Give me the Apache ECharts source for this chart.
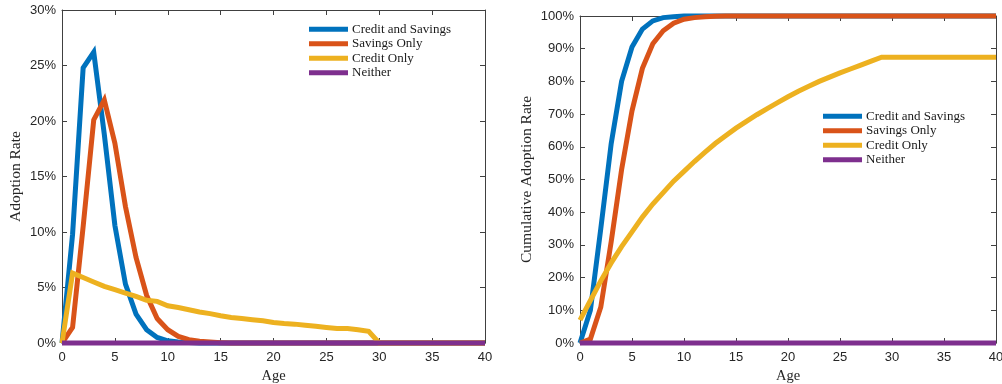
<!DOCTYPE html>
<html>
<head>
<meta charset="utf-8">
<script src="https://cdn.jsdelivr.net/npm/echarts@6/dist/echarts.min.js"></script>
<style>html,body{margin:0;padding:0;background:#fff;}#c{width:1002px;height:384px;}</style>
</head>
<body>
<div id="c"></div>
<script>
// ---- Data ----
const ages = [0,1,2,3,4,5,6,7,8,9,10,11,12,13,14,15,16,17,18,19,20,21,22,23,24,25,26,27,28,29,30,31,32,33,34,35,36,37,38,39,40];
const seriesNames = ['Credit and Savings','Savings Only','Credit Only','Neither'];

// Left panel: adoption rate (%) by age
const adoptCreditSavings = [0,9.8,24.8,26.2,18.8,10.6,5.3,2.6,1.2,0.5,0.2,0.1,0.05,0,0,0,0,0,0,0,0,0,0,0,0,0,0,0,0,0,0,0,0,0,0,0,0,0,0,0,0];
const adoptSavingsOnly   = [0,1.4,10.5,20.1,21.9,18,12.3,7.7,4.3,2.2,1.2,0.6,0.3,0.15,0.08,0.03,0,0,0,0,0,0,0,0,0,0,0,0,0,0,0,0,0,0,0,0,0,0,0,0,0];
const adoptCreditOnly    = [0,6.3,5.9,5.5,5.1,4.8,4.5,4.2,3.85,3.75,3.35,3.2,3.0,2.8,2.65,2.45,2.3,2.2,2.1,2.0,1.85,1.75,1.7,1.6,1.5,1.4,1.3,1.3,1.2,1.05,0,0,0,0,0,0,0,0,0,0,0];
const adoptNeither       = [0,0,0,0,0,0,0,0,0,0,0,0,0,0,0,0,0,0,0,0,0,0,0,0,0,0,0,0,0,0,0,0,0,0,0,0,0,0,0,0,0];

// Right panel: cumulative adoption rate (%) by age
const cumCreditSavings = [0,10,35,61,80,90.5,96,98.5,99.5,99.8,100,100,100,100,100,100,100,100,100,100,100,100,100,100,100,100,100,100,100,100,100,100,100,100,100,100,100,100,100,100,100];
const cumSavingsOnly   = [0,1.2,11,31,53,71,84,91.5,95.5,97.8,99,99.5,99.8,99.9,100,100,100,100,100,100,100,100,100,100,100,100,100,100,100,100,100,100,100,100,100,100,100,100,100,100,100];
const cumCreditOnly    = [7,13,19,24.5,29.5,34,38.5,42.5,46,49.5,52.5,55.5,58.3,61,63.4,65.7,67.8,69.8,71.7,73.5,75.3,77,78.5,80,81.3,82.6,83.8,85,86.2,87.4,87.4,87.4,87.4,87.4,87.4,87.4,87.4,87.4,87.4,87.4,87.4];
const cumNeither       = [0,0,0,0,0,0,0,0,0,0,0,0,0,0,0,0,0,0,0,0,0,0,0,0,0,0,0,0,0,0,0,0,0,0,0,0,0,0,0,0,0];

const leftYTicks = {min:0, max:30, interval:5};
const rightYTicks = {min:0, max:100, interval:10};
const xTicks = {min:0, max:40, interval:5};

// ---- Styling ----
const colors = ['#0072BD','#D95319','#EDB120','#7E2F8E'];
const axisColor = '#404040';
const sansFont = 'Liberation Sans';
const serifFont = 'Liberation Serif';

function pairs(arr){ return ages.map((a,i)=>[a, arr[i]]); }

function xAxisDef(grid, pos, withLabels){
  return {
    type:'value', gridIndex:grid, position:pos,
    min:xTicks.min, max:xTicks.max, interval:xTicks.interval,
    name: withLabels ? 'Age' : '', nameLocation:'middle', nameGap:24,
    nameTextStyle:{fontFamily:serifFont, fontSize:14.5, color:'#262626'},
    axisLine:{show:true, onZero:false, lineStyle:{color:axisColor, width:1}},
    axisTick:{show:true, inside:true, length:5, lineStyle:{color:axisColor}},
    axisLabel:{show:withLabels, margin:8, fontFamily:sansFont, fontSize:13, color:'#262626'},
    splitLine:{show:false}
  };
}
function yAxisDef(grid, pos, ticks, withLabels, name, gap){
  return {
    type:'value', gridIndex:grid, position:pos,
    min:ticks.min, max:ticks.max, interval:ticks.interval,
    name: withLabels ? name : '', nameLocation:'middle', nameGap:gap, nameRotate:90,
    nameTextStyle:{fontFamily:serifFont, fontSize:15.5, color:'#262626'},
    axisLine:{show:true, onZero:false, lineStyle:{color:axisColor, width:1}},
    axisTick:{show:true, inside:true, length:5, lineStyle:{color:axisColor}},
    axisLabel:{show:withLabels, margin:6, fontFamily:sansFont, fontSize:13, color:'#262626', formatter:'{value}%'},
    splitLine:{show:false}
  };
}
function lineSeries(name, data, idx, xi, yi){
  return {
    name:name, type:'line', xAxisIndex:xi, yAxisIndex:yi,
    data:pairs(data), showSymbol:false, symbol:'none', clip:false,
    lineStyle:{width:5, color:colors[idx], join:'miter'}, itemStyle:{color:colors[idx]},
    animation:false, z: 2 + idx
  };
}

const leftData = [adoptCreditSavings, adoptSavingsOnly, adoptCreditOnly, adoptNeither];
const rightData = [cumCreditSavings, cumSavingsOnly, cumCreditOnly, cumNeither];

const series = [];
seriesNames.forEach((n,i)=>series.push(lineSeries(n, leftData[i], i, 0, 0)));
seriesNames.forEach((n,i)=>series.push(lineSeries(n, rightData[i], i, 2, 2)));

function legendDef(left, top){
  return {
    left:left, top:top, orient:'vertical', itemWidth:39, itemHeight:5, itemGap:0,
    icon:'rect', data:seriesNames, selectedMode:false,
    textStyle:{fontFamily:serifFont, fontSize:13, color:'#1a1a1a', lineHeight:14.5, padding:[0,0,0,-1]},
    padding:0
  };
}

const option = {
  backgroundColor:'#fff',
  animation:false,
  color:colors,
  grid:[
    {left:62, top:10, width:423, height:333, containLabel:false, outerBoundsMode:'none'},
    {left:580, top:16, width:416, height:327, containLabel:false, outerBoundsMode:'none'}
  ],
  xAxis:[xAxisDef(0,'bottom',true), xAxisDef(0,'top',false), xAxisDef(1,'bottom',true), xAxisDef(1,'top',false)],
  yAxis:[
    yAxisDef(0,'left',leftYTicks,true,'Adoption Rate',38),
    yAxisDef(0,'right',leftYTicks,false,'',0),
    yAxisDef(1,'left',rightYTicks,true,'Cumulative Adoption Rate',45),
    yAxisDef(1,'right',rightYTicks,false,'',0)
  ],
  legend:[legendDef(309, 22), legendDef(823, 109)],
  series:series
};

const chart = echarts.init(document.getElementById('c'), null, {renderer:'canvas'});
chart.setOption(option);
</script>
</body>
</html>
